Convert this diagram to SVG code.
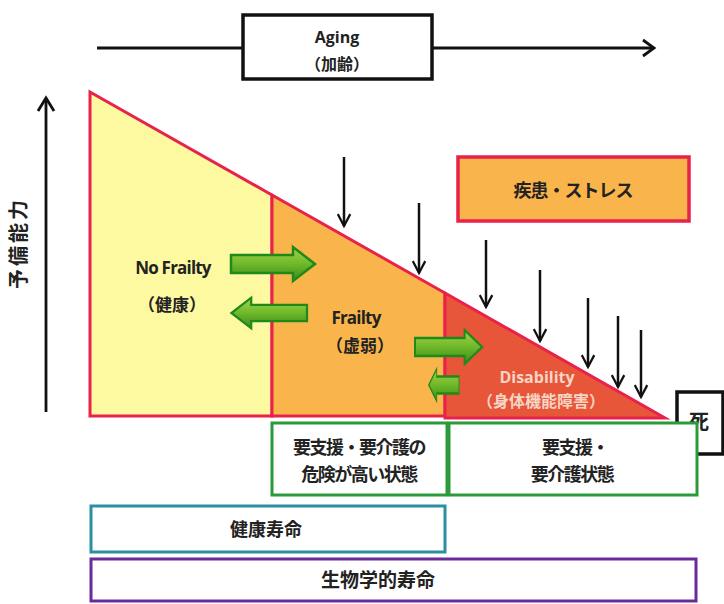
<svg xmlns="http://www.w3.org/2000/svg" width="724" height="604" viewBox="0 0 724 604">
<style>
text{font-family:"Noto Sans CJK JP","Noto Sans",sans-serif;font-weight:bold;fill:#222;text-anchor:middle}
.lat{font-family:"Open Sans","Noto Sans",sans-serif}
.blk{stroke:#111;stroke-width:2.8;fill:none}
.down{stroke:#111;stroke-width:2.5;fill:none;marker-end:url(#ah)}
.reg{stroke:#e8224a;stroke-width:3}
.box{fill:#fff;stroke-width:3}
</style>
<defs>
<marker id="ah" viewBox="0 0 12 12" refX="10.5" refY="6" markerWidth="6" markerHeight="6" orient="auto" markerUnits="strokeWidth">
<path d="M1,1 L10.5,6 L1,11" fill="none" stroke="#111" stroke-width="1.8"/>
</marker>
<linearGradient id="g" x1="0" y1="0" x2="0" y2="1">
<stop offset="0" stop-color="#a6d24a"/>
<stop offset="0.5" stop-color="#6fb82a"/>
<stop offset="1" stop-color="#3a8a18"/>
</linearGradient>
<path id="gar" d="M0,-9 L62,-9 L62,-17 L84,0 L62,17 L62,9 L0,9 Z" fill="url(#g)" stroke="#1f8a1a" stroke-width="2.5"/>
</defs>

<g id="aging">
<line class="blk" x1="97" y1="48" x2="243" y2="48"/>
<line class="blk" x1="432" y1="48" x2="652" y2="48"/>
<path class="blk" d="M643,40 L654,48 L643,56"/>
<rect x="243" y="15" width="189" height="64" fill="#fff" stroke="#111" stroke-width="3.5"/>
<text class="lat" x="337" y="43" font-size="16" font-weight="normal">Aging</text>
<text x="337" y="70" font-size="16" font-weight="normal">（加齢）</text>
</g>

<g id="yaxis">
<line class="blk" x1="46" y1="412" x2="46" y2="100"/>
<path class="blk" d="M38,111 L46,98 L54,111"/>
<text x="19" y="243" font-size="20" letter-spacing="3" transform="rotate(-90 19 243)" dy="7">予備能力</text>
</g>

<g id="no-frailty">
<polygon class="reg" points="90,92 272,195 272,416 90,416" fill="#fdf9a0"/>
<text class="lat" x="173" y="274" font-size="17" letter-spacing="-0.8">No Frailty</text>
<text x="172" y="311" font-size="17">（健康）</text>
</g>
<g id="frailty">
<polygon class="reg" points="272,195 445,293 445,416 272,416" fill="#f9b54c"/>
<text class="lat" x="356" y="324" font-size="17" letter-spacing="-0.8">Frailty</text>
<text x="360" y="352" font-size="17">（虚弱）</text>
</g>
<g id="disability">
<polygon class="reg" points="445,293 665,418 445,418" fill="#e8563a"/>
<text class="lat" x="537" y="383" font-size="16" font-weight="normal" style="fill:#f7d4c4">Disability</text>
<text x="541" y="407" font-size="16" font-weight="normal" style="fill:#f7d4c4">（身体機能障害）</text>
</g>

<g id="connectors">
<use href="#gar" transform="translate(231,264)"/>
<use href="#gar" transform="translate(307,313) scale(-0.9,0.9)"/>
<use href="#gar" transform="translate(415,347) scale(0.8,1)"/>
<use href="#gar" transform="translate(459,385) scale(-0.36,0.95)"/>
<line class="down" x1="344" y1="157" x2="344" y2="226"/>
<line class="down" x1="419" y1="203" x2="419" y2="273"/>
<line class="down" x1="486" y1="240" x2="486" y2="307"/>
<line class="down" x1="540" y1="270" x2="540" y2="341"/>
<line class="down" x1="588" y1="298" x2="588" y2="367"/>
<line class="down" x1="618" y1="316" x2="618" y2="387"/>
<line class="down" x1="641" y1="330" x2="641" y2="397"/>
</g>

<g id="stress">
<rect x="458" y="157" width="231" height="64" fill="#f9b54c" stroke="#e8224a" stroke-width="3.5"/>
<text x="573" y="197" font-size="18" letter-spacing="-1">疾患・ストレス</text>
</g>

<g id="death">
<rect x="677" y="392" width="46" height="62" fill="#fff" stroke="#111" stroke-width="3.5"/>
<text x="699" y="429" font-size="20">死</text>
</g>

<g id="risk">
<rect class="box" x="272" y="423" width="175" height="72" stroke="#2a9a3a"/>
<text x="359" y="454" font-size="18" letter-spacing="-1.5">要支援・要介護の</text>
<text x="359" y="481" font-size="18" letter-spacing="-1.5">危険が高い状態</text>
</g>
<g id="care">
<rect class="box" x="449" y="423" width="248" height="72" stroke="#2a9a3a"/>
<text x="575" y="454" font-size="18" letter-spacing="-1.5">要支援・</text>
<text x="572" y="481" font-size="18" letter-spacing="-1.5">要介護状態</text>
</g>
<g id="healthy-life">
<rect class="box" x="91" y="506" width="354" height="46" stroke="#2a8fa0"/>
<text x="266" y="536" font-size="18">健康寿命</text>
</g>
<g id="bio-life">
<rect class="box" x="91" y="559" width="605" height="42" stroke="#6a2a9a"/>
<text x="378" y="587" font-size="19">生物学的寿命</text>
</g>
</svg>
